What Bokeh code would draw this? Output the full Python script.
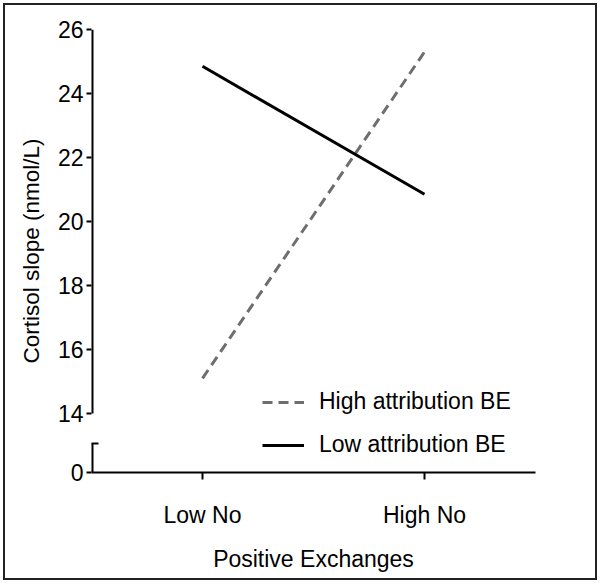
from bokeh.plotting import figure
from bokeh.models import Range1d, FactorRange, FixedTicker, Legend, LegendItem, Title
from bokeh.embed import file_html
from bokeh.resources import INLINE

# ---- data ----
x_cats = ["Low No", "High No"]
high_attr = [15.1, 25.3]
low_attr = [24.85, 20.85]
series_names = ["High attribution BE", "Low attribution BE"]
y_ticks = [14, 16, 18, 20, 22, 24, 26]
y_zero_label = "0"
x_title = "Positive Exchanges"
y_title = "Cortisol slope (nmol/L)"

# ---- broken-axis layout (upper segment 14..26, short stub for 0 below it) ----
Y_TOP = 26.0
PX_PER_UNIT = 32.0
FRAME_H = 443
Y_ZERO_POS = Y_TOP - FRAME_H / PX_PER_UNIT       # where the "0" of the stub sits
Y_STUB_TOP = Y_TOP - (FRAME_H - 29) / PX_PER_UNIT  # top end of the stub

FONT = "Liberation Sans"
TXT = "#000000"
DASH_COLOR = "#6e6e6e"

p = figure(width=590, height=573,
           x_range=FactorRange(factors=x_cats, range_padding=0),
           y_range=Range1d(Y_ZERO_POS, Y_TOP),
           output_backend="svg", toolbar_location=None,
           min_border_left=85, min_border_right=60, min_border_top=24, min_border_bottom=106)
p.grid.visible = False
p.outline_line_color = None
p.styles = {"margin": "5px 0 0 5px", "outline": "2px solid #222222"}

# axis line pieces (upper segment and lower stub) along the frame's left edge
p.segment(x0=[0, 0], y0=[y_ticks[0], Y_ZERO_POS], x1=[0, 0], y1=[y_ticks[-1], Y_STUB_TOP],
          line_color="black", line_width=4)

r_high = p.line(x_cats, high_attr, line_color=DASH_COLOR, line_width=3, line_dash="10 6")
r_low = p.line(x_cats, low_attr, line_color="black", line_width=3)

ya = p.yaxis[0]
ya.ticker = FixedTicker(ticks=[Y_ZERO_POS] + y_ticks, minor_ticks=[Y_STUB_TOP])
ya.major_label_overrides = {Y_ZERO_POS: y_zero_label}
ya.axis_line_color = None
ya.major_label_text_font = FONT
ya.major_label_text_font_size = "23px"
ya.major_label_text_color = TXT
ya.major_label_standoff = 3
ya.major_tick_out = 5
ya.major_tick_in = 0
ya.major_tick_line_width = 2
ya.minor_tick_in = 7
ya.minor_tick_out = 0
ya.minor_tick_line_width = 2

p.add_layout(Title(text=y_title, align="center", standoff=22,
                   text_font=FONT, text_font_size="22.5px", text_font_style="normal",
                   text_color=TXT), "left")

xa = p.xaxis[0]
xa.axis_label = x_title
xa.axis_label_text_font = FONT
xa.axis_label_text_font_size = "23px"
xa.axis_label_text_font_style = "normal"
xa.axis_label_text_color = TXT
xa.axis_label_standoff = 15
xa.major_label_text_font = FONT
xa.major_label_text_font_size = "23px"
xa.major_label_text_color = TXT
xa.major_label_standoff = 22
xa.major_tick_out = 7
xa.major_tick_in = 0
xa.axis_line_width = 2
xa.major_tick_line_width = 2

legend = Legend(items=[LegendItem(label=series_names[0], renderers=[r_high]),
                       LegendItem(label=series_names[1], renderers=[r_low])],
                location=(171, 14), padding=0, margin=0, spacing=16,
                border_line_color=None, background_fill_alpha=0,
                glyph_width=42, glyph_height=26, label_height=26, label_standoff=15,
                label_text_font=FONT, label_text_font_size="23px", label_text_color=TXT)
p.add_layout(legend)

open("out.html", "w").write(file_html(p, INLINE))
